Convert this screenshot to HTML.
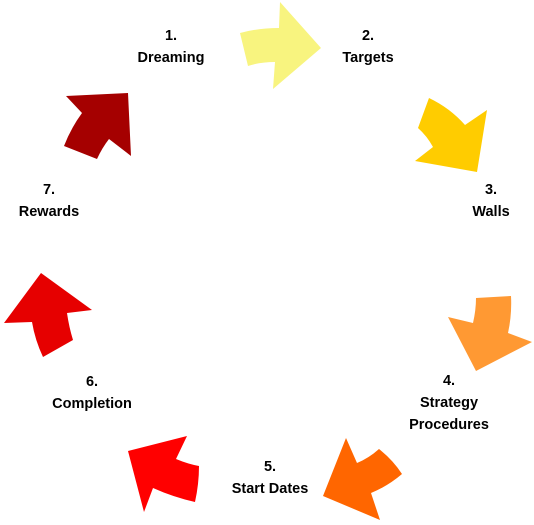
<!DOCTYPE html>
<html><head><style>
body{margin:0;width:534px;height:525px;background:#fff;position:relative;overflow:hidden;font-family:"Liberation Sans",sans-serif}
svg{position:absolute;left:0;top:0}
.t{position:absolute;font-weight:bold;font-size:14.5px;color:#000;text-align:center;width:140px;line-height:22px}
</style></head><body>
<svg width="534" height="525">
<path fill="#F8F47F" d="M240,33 Q258,28 279,28 L280,2 L321,48 L273,89 L275,62 Q260,62 248,66 Z"/>
<path fill="#FFCC00" d="M429,98 Q450,108 465,125 L487,110 L477,172 L415,161 L433,147 Q427,136 418,128 Z"/>
<path fill="#FF9933" d="M476,298 L511,296 Q512,315 508,333 L532,342 L476,371 L448,317 L473,323 Q476,310 476,298 Z"/>
<path fill="#FF6600" d="M346,438 L357,463 Q369,458 379,449 Q393,460 402,474 Q388,486 371,493 L380,520 L323,496 Z"/>
<path fill="#FF0000" d="M187,436 L176,459 Q188,464 199,466 Q199,484 195,502 Q173,497 153,488 L144,512 L128,451 Z"/>
<path fill="#E60000" d="M41,273 L92,310 L67,313 Q69,327 73,340 L43,357 Q35,340 32,322 L4,323 Z"/>
<path fill="#A50000" d="M128,93 L131,156 L109,139 Q102,148 97,159 L64,146 Q71,128 82,113 L66,96 Z"/>
</svg>
<div class="t" style="left:101px;top:25px">1.<br>Dreaming</div>
<div class="t" style="left:298px;top:25px">2.<br>Targets</div>
<div class="t" style="left:421px;top:179px">3.<br>Walls</div>
<div class="t" style="left:379px;top:370px">4.<br>Strategy<br>Procedures</div>
<div class="t" style="left:200px;top:456px">5.<br>Start Dates</div>
<div class="t" style="left:22px;top:371px">6.<br>Completion</div>
<div class="t" style="left:-21px;top:179px">7.<br>Rewards</div>
</body></html>
